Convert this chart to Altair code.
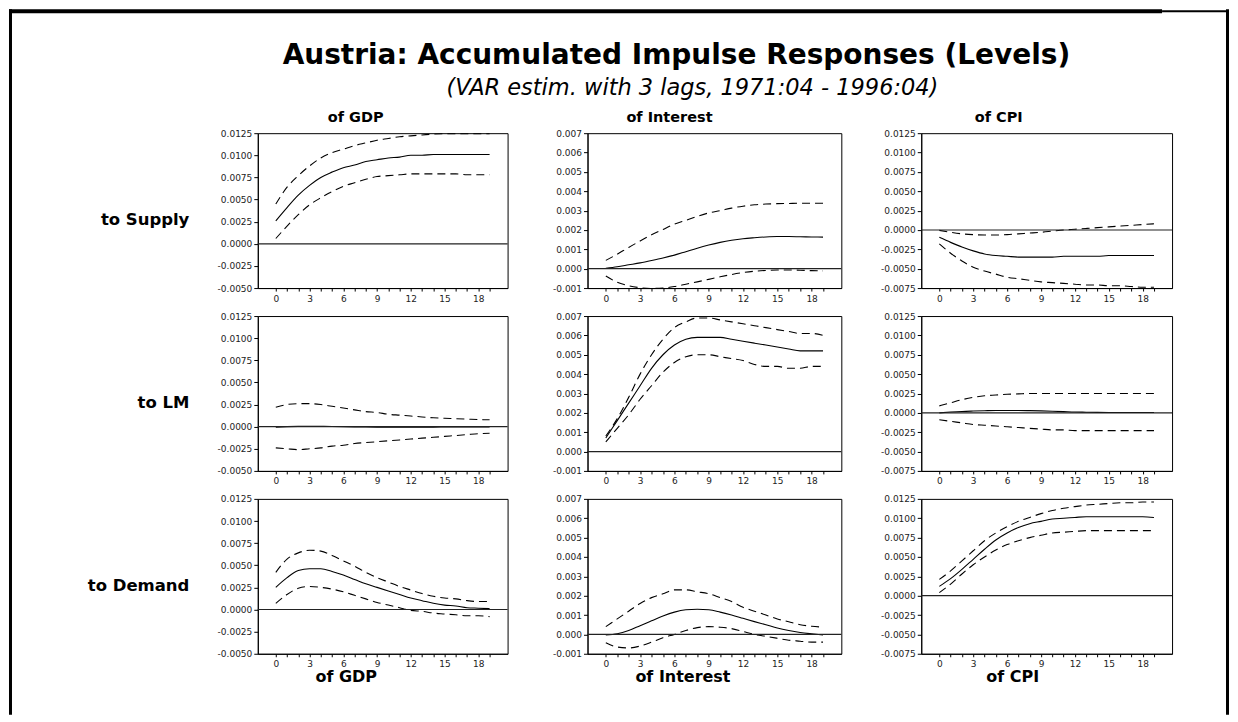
import altair as alt
import pandas as pd

H = list(range(20))
SHOCKS = ["Supply", "LM", "Demand"]
VARS = ["GDP", "Interest", "CPI"]
TITLE = "Austria: Accumulated Impulse Responses (Levels)"
SUBTITLE = "(VAR estim. with 3 lags, 1971:04 - 1996:04)"

# ---- response of GDP / Interest / CPI to Supply shock ----
supply_gdp_mid = [0.0026,0.0041,0.0055,0.0066,0.0075,0.0081,0.0086,0.0089,0.0093,0.0095,0.0097,0.0098,0.0100,0.0100,0.0101,0.0101,0.0101,0.0101,0.0101,0.0101]
supply_gdp_hi = [0.0045,0.0064,0.0077,0.0088,0.0097,0.0103,0.0107,0.0111,0.0114,0.0117,0.0119,0.0121,0.0122,0.0123,0.0124,0.01245,0.01245,0.01245,0.01245,0.01245]
supply_gdp_lo = [0.0006,0.0020,0.0033,0.0044,0.0052,0.0059,0.0065,0.0069,0.0073,0.0076,0.0077,0.0078,0.0079,0.0079,0.0079,0.0079,0.0079,0.0078,0.0078,0.0078]

supply_int_mid = [0.00002,0.0001,0.0002,0.0003,0.00042,0.00055,0.0007,0.00088,0.00106,0.00122,0.00136,0.00147,0.00155,0.0016,0.00164,0.00166,0.00166,0.00165,0.00164,0.00163]
supply_int_hi = [0.00043,0.00075,0.0011,0.00143,0.00175,0.00203,0.0023,0.0025,0.0027,0.00288,0.003,0.00313,0.00323,0.0033,0.00334,0.00336,0.00337,0.00338,0.00338,0.00338]
supply_int_lo = [-0.00038,-0.0007,-0.00088,-0.00098,-0.00102,-0.001,-0.00092,-0.0008,-0.00068,-0.00055,-0.00042,-0.0003,-0.0002,-0.00013,-0.00009,-0.00007,-0.00007,-0.00008,-0.0001,-0.00011]

supply_cpi_mid = [-0.00095,-0.0016,-0.0022,-0.0027,-0.0031,-0.0033,-0.0034,-0.0035,-0.0035,-0.0035,-0.0035,-0.0034,-0.0034,-0.0034,-0.0034,-0.0033,-0.0033,-0.0033,-0.0033,-0.0033]
supply_cpi_hi = [-0.00005,-0.0003,-0.0005,-0.0006,-0.00065,-0.00065,-0.0006,-0.0005,-0.0004,-0.0003,-0.00015,0.0,0.0001,0.0002,0.0003,0.0004,0.0005,0.0006,0.0007,0.0008]
supply_cpi_lo = [-0.0018,-0.0030,-0.0040,-0.0048,-0.0053,-0.0057,-0.0061,-0.0063,-0.0065,-0.0067,-0.0068,-0.0069,-0.0070,-0.0071,-0.0071,-0.0072,-0.0072,-0.0073,-0.0074,-0.0074]

# ---- to LM shock ----
lm_gdp_mid = [-0.00005,0.0,0.00003,0.00005,0.00004,0.00002,0.0,-0.00002,-0.00004,-0.00005,-0.00005,-0.00005,-0.00005,-0.00005,-0.00005,-0.00004,-0.00004,-0.00003,-0.00003,-0.00003]
lm_gdp_hi = [0.0022,0.0025,0.0026,0.0026,0.0025,0.0023,0.0021,0.0019,0.0017,0.0016,0.0014,0.0013,0.0012,0.0011,0.0010,0.00095,0.0009,0.00085,0.0008,0.00078]
lm_gdp_lo = [-0.0024,-0.0025,-0.0026,-0.0025,-0.0024,-0.0022,-0.0021,-0.0019,-0.0018,-0.0017,-0.0016,-0.0015,-0.0014,-0.0013,-0.0012,-0.0011,-0.0010,-0.0009,-0.0008,-0.00075]

lm_int_mid = [0.0007,0.0016,0.0025,0.0034,0.0043,0.0050,0.0055,0.0058,0.0059,0.0059,0.0059,0.0058,0.0057,0.0056,0.0055,0.0054,0.0053,0.0052,0.0052,0.0052]
lm_int_hi = [0.0008,0.0017,0.0028,0.0040,0.0050,0.0058,0.0064,0.0067,0.0069,0.0069,0.0068,0.0067,0.0066,0.0065,0.0064,0.0063,0.0062,0.0061,0.0061,0.0060]
lm_int_lo = [0.0005,0.0012,0.0019,0.0027,0.0034,0.0041,0.0046,0.0049,0.0050,0.0050,0.0049,0.0048,0.0047,0.0045,0.0044,0.0044,0.0043,0.0043,0.0044,0.0044]

lm_cpi_mid = [0.0,0.0001,0.00018,0.00023,0.00027,0.0003,0.0003,0.0003,0.00028,0.00025,0.0002,0.00015,0.0001,0.00008,0.00006,0.00005,0.00005,0.00005,0.00005,0.00005]
lm_cpi_hi = [0.0009,0.0013,0.0017,0.0020,0.0022,0.0023,0.0024,0.00245,0.0025,0.0025,0.0025,0.0025,0.0025,0.0025,0.0025,0.0025,0.0025,0.0025,0.0025,0.0025]
lm_cpi_lo = [-0.0009,-0.0011,-0.0013,-0.0015,-0.0016,-0.0017,-0.0018,-0.0019,-0.0020,-0.0021,-0.0022,-0.0022,-0.0023,-0.0023,-0.0023,-0.0023,-0.0023,-0.0023,-0.0023,-0.0023]

# ---- to Demand shock ----
dem_gdp_mid = [0.0025,0.0036,0.0044,0.0046,0.0046,0.0043,0.0039,0.0034,0.0029,0.0025,0.0021,0.0017,0.0013,0.0010,0.0007,0.0005,0.0004,0.0002,0.00015,0.0001]
dem_gdp_hi = [0.0042,0.0057,0.0064,0.0067,0.0066,0.0061,0.0055,0.0049,0.0042,0.0036,0.0031,0.0026,0.0022,0.0018,0.0015,0.0013,0.0012,0.0010,0.0009,0.0009]
dem_gdp_lo = [0.0007,0.0017,0.0024,0.0026,0.0025,0.0023,0.0020,0.0016,0.0012,0.0008,0.0005,0.0002,-0.0001,-0.0002,-0.0004,-0.0005,-0.0006,-0.0007,-0.0007,-0.0008]

dem_int_mid = [-0.00003,0.00003,0.0002,0.00045,0.0007,0.00095,0.00115,0.00127,0.0013,0.00127,0.00115,0.001,0.00083,0.00066,0.0005,0.00033,0.0002,0.0001,0.00003,-0.00003]
dem_int_hi = [0.0004,0.0008,0.0012,0.0016,0.0019,0.0021,0.0023,0.0023,0.0022,0.0021,0.0019,0.0017,0.0014,0.0012,0.001,0.0008,0.00065,0.0005,0.00042,0.00038]
dem_int_lo = [-0.00043,-0.00065,-0.0007,-0.0006,-0.0004,-0.00017,0.0,0.0002,0.00035,0.0004,0.00037,0.0003,0.00015,0.0,-0.0001,-0.0002,-0.0003,-0.00035,-0.0004,-0.0004]

dem_cpi_mid = [0.0012,0.0022,0.0034,0.0047,0.0060,0.0072,0.0081,0.0088,0.0093,0.0096,0.0099,0.0100,0.0101,0.0102,0.0102,0.0102,0.0102,0.0102,0.0102,0.0101]
dem_cpi_hi = [0.0021,0.0032,0.0045,0.0058,0.0071,0.0081,0.0089,0.0096,0.0101,0.0106,0.0110,0.0113,0.0115,0.0117,0.0118,0.0119,0.0120,0.0120,0.0121,0.0121]
dem_cpi_lo = [0.0004,0.0015,0.0028,0.0040,0.0050,0.0059,0.0066,0.0071,0.0075,0.0078,0.0081,0.0082,0.0083,0.0084,0.0084,0.0084,0.0084,0.0084,0.0084,0.0084]

SERIES = [
    [(supply_gdp_mid, supply_gdp_lo, supply_gdp_hi), (supply_int_mid, supply_int_lo, supply_int_hi), (supply_cpi_mid, supply_cpi_lo, supply_cpi_hi)],
    [(lm_gdp_mid, lm_gdp_lo, lm_gdp_hi), (lm_int_mid, lm_int_lo, lm_int_hi), (lm_cpi_mid, lm_cpi_lo, lm_cpi_hi)],
    [(dem_gdp_mid, dem_gdp_lo, dem_gdp_hi), (dem_int_mid, dem_int_lo, dem_int_hi), (dem_cpi_mid, dem_cpi_lo, dem_cpi_hi)],
]

Y_DOMAINS = [[-0.005, 0.0125], [-0.001, 0.007], [-0.0075, 0.0125]]
Y_TICKS = [
    [-0.005, -0.0025, 0.0, 0.0025, 0.005, 0.0075, 0.01, 0.0125],
    [-0.001, 0.0, 0.001, 0.002, 0.003, 0.004, 0.005, 0.006, 0.007],
    [-0.0075, -0.005, -0.0025, 0.0, 0.0025, 0.005, 0.0075, 0.01, 0.0125],
]
Y_FMT = [".4f", ".3f", ".4f"]
WIDTHS = [250, 254, 251]
HEIGHT = 155
TOP_DX = [-27, -45, -48]
BOTTOM_X = [88, 95, 91]
FONT = "DejaVu Sans"


def panel(r, c):
    mid, lo, hi = SERIES[r][c]
    df = pd.DataFrame({
        "h": H * 3,
        "v": mid + lo + hi,
        "s": ["mid"] * 20 + ["lo"] * 20 + ["hi"] * 20,
    })
    w = WIDTHS[c]
    yscale = alt.Scale(domain=Y_DOMAINS[c], nice=False, zero=False)
    xscale = alt.Scale(domain=[-1.6, 20.6], nice=False, zero=False)

    xaxis_kw = dict(values=H, format="d",
                    labelExpr="datum.value % 3 == 0 ? datum.label : ''",
                    tickSize=3, labelFontSize=9, labelPadding=3,
                    labelOverlap=False, labelFlush=False, grid=False)
    if r == 2:
        xaxis_kw.update(title=f"of {VARS[c]}", titleX=BOTTOM_X[c], titleY=28,
                        titleAlign="center", titleBaseline="alphabetic",
                        titleFontSize=16, titleFontWeight="bold", titleColor="black")
        xaxis = alt.Axis(**xaxis_kw)
    else:
        xaxis = alt.Axis(title=None, **xaxis_kw)

    yaxis_kw = dict(values=Y_TICKS[c],
                    labelExpr=f"replace(format(datum.value, '{Y_FMT[c]}'), '\u2212', '-')",
                    tickSize=4, labelFontSize=9, labelPadding=2,
                    labelOverlap=False, labelFlush=False, grid=False)
    if c == 0:
        yaxis_kw.update(title=f"to {SHOCKS[r]}", titleAngle=0, titleAlign="right",
                        titleBaseline="middle", titleX=-69, titleY=HEIGHT / 2 + 9,
                        titleFontSize=16.5, titleFontWeight="bold", titleColor="black")
        yaxis = alt.Axis(**yaxis_kw)
    else:
        yaxis = alt.Axis(title=None, **yaxis_kw)

    base = alt.Chart(df)
    bands = base.transform_filter("datum.s != 'mid'").mark_line(
        color="black", strokeWidth=1.1, strokeDash=[8, 5], clip=True, interpolate="monotone"
    ).encode(
        x=alt.X("h:Q", scale=xscale, axis=xaxis),
        y=alt.Y("v:Q", scale=yscale, axis=yaxis),
        detail="s:N",
    )
    solid = base.transform_filter("datum.s == 'mid'").mark_line(
        color="black", strokeWidth=1.1, clip=True, interpolate="monotone"
    ).encode(
        x=alt.X("h:Q", scale=xscale, axis=xaxis),
        y=alt.Y("v:Q", scale=yscale, axis=yaxis),
    )
    zero = alt.Chart(alt.Data(values=[{"z": 0}])).mark_rule(
        color="#222", strokeWidth=1.2
    ).encode(y=alt.Y("z:Q", scale=yscale, axis=yaxis))

    layers = [bands, solid, zero]

    if r == 1 and c == 0:
        # outer frame of the figure (relative to this panel's origin)
        one = alt.Data(values=[{"k": 1}])
        frame_specs = [
            (-249, -246, -307, 399),   # left line
            (969, 972, -307, 399),     # right line
            (-249, 905, -307, -303),   # thick top bar
            (905, 972, -306, -304),    # thin top bar
        ]
        for x1, x2, y1, y2 in frame_specs:
            layers.append(alt.Chart(one).mark_rect(color="black").encode(
                x=alt.value(x1), x2=alt.value(x2), y=alt.value(y1), y2=alt.value(y2)))
    if r == 1 and c == 1:
        tdata = alt.Data(values=[{"t": TITLE, "st": SUBTITLE}])
        layers.append(alt.Chart(tdata).mark_text(
            font=FONT, fontSize=28, fontWeight="bold", align="center", baseline="middle", color="black"
        ).encode(x=alt.value(89), y=alt.value(-260), text="t:N"))
        layers.append(alt.Chart(tdata).mark_text(
            font=FONT, fontSize=22.5, fontStyle="italic", align="center", baseline="middle", color="black"
        ).encode(x=alt.value(105), y=alt.value(-228), text="st:N"))

    props = dict(width=w, height=HEIGHT)
    if r == 0:
        props["title"] = alt.TitleParams(text=f"of {VARS[c]}", font=FONT, fontSize=14.5,
                                         fontWeight="bold", anchor="middle", dx=TOP_DX[c],
                                         offset=4, color="black")
    return alt.layer(*layers).properties(**props)


panels = [panel(r, c) for r in range(3) for c in range(3)]

chart = alt.concat(
    *panels, columns=3, spacing={"row": 28, "column": 80}, bounds="flush", align="each"
).properties(
    padding=0, background="white"
).configure_view(
    stroke="black", strokeWidth=1
).configure_axis(
    domainColor="black", tickColor="black", labelColor="#222",
    labelFont=FONT, titleFont=FONT, domainWidth=1, tickWidth=1
)

chart.save("out.html", embed_options={"renderer": "svg", "actions": False})
